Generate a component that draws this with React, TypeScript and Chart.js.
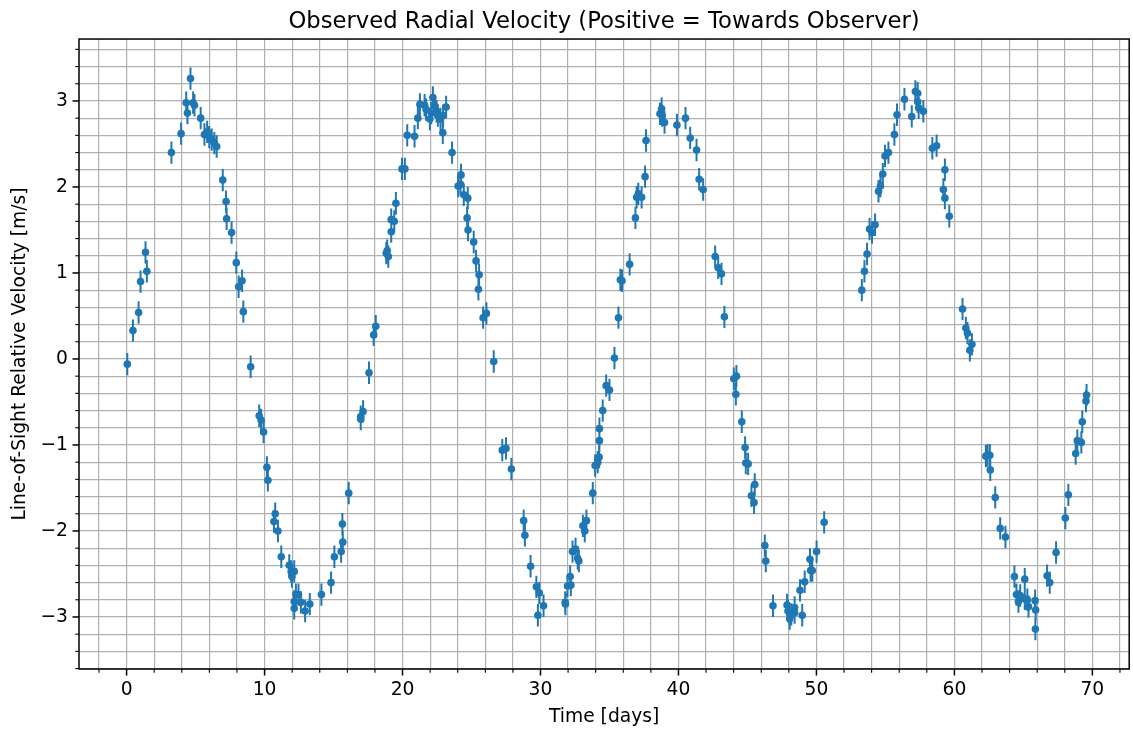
import React, { useEffect, useRef } from "react";
import { Chart, registerables } from "chart.js";

Chart.register(...registerables);

// ---- Data ----
const days = [
  0.05, 0.46, 0.87, 1.01, 1.37, 1.47, 3.25, 3.95, 4.32, 4.41, 4.63, 4.82, 4.92, 5.37, 5.64, 5.84, 5.99, 6.17, 6.36, 6.53,
  6.97, 7.21, 7.25, 7.61, 7.95, 8.12, 8.37, 8.46, 8.99,
  9.61, 9.75, 9.93, 10.17, 10.24, 10.77, 10.68, 10.97, 11.21,
  11.79, 11.93, 12.15, 11.98, 12.27, 12.46, 12.15, 12.15, 12.63, 12.94, 13.28, 14.12, 14.82, 15.06, 15.55, 15.67, 15.64,
  16.10, 16.97, 17.14, 16.97, 17.57,
  17.91, 18.06, 18.82, 18.97, 18.89, 19.18, 19.18, 19.40, 19.52, 19.96, 20.17, 20.34, 20.87, 21.11, 21.26, 21.60, 21.71,
  22.20, 22.34, 21.98, 22.08, 22.47, 22.56, 22.75, 22.94, 23.16, 22.92, 23.59,
  24.24, 24.03, 24.20, 24.44, 24.73, 24.68, 24.75, 25.16, 25.33, 25.55, 25.50, 25.84, 26.08, 26.61,
  27.23, 27.50, 27.89, 28.78, 28.87, 29.28, 29.70, 29.91, 30.22, 29.81, 31.79, 31.81, 31.96, 32.20, 32.15, 32.32, 32.54,
  32.70, 32.78, 33.07, 33.33, 33.21, 33.79, 33.96,
  34.15, 34.25, 34.27, 34.27, 34.51, 34.76, 35.00, 35.36, 35.65, 35.79, 35.91, 36.46, 36.88, 36.97, 37.09, 37.33, 37.58,
  37.65, 38.66, 38.78, 38.81, 38.99, 39.89, 40.51, 40.85, 41.31, 41.50, 41.79, 42.66, 42.88, 43.12, 43.33, 44.01, 44.20,
  44.16, 44.59, 44.83, 44.88, 45.05, 45.53, 45.29, 45.48, 46.26, 46.33, 46.85,
  47.87, 47.94, 48.06, 48.18, 48.42, 48.42, 48.97, 48.81, 49.15, 49.53, 49.58, 49.70, 50.01, 50.56,
  53.29, 53.48, 53.67, 53.85, 54.03, 54.25, 54.50, 54.64, 54.81, 54.97, 55.22, 55.65, 55.84, 56.38, 56.91, 57.17, 57.34,
  57.34, 57.41, 57.75, 58.40, 58.71, 59.31, 59.20, 59.31, 59.63,
  60.59, 60.83, 60.95, 61.27, 61.12, 62.28, 62.40, 62.57, 62.60, 62.96, 63.32, 63.70, 64.35, 64.50, 64.64, 64.77, 65.10,
  65.10, 65.29, 65.37, 65.85, 65.89, 65.87, 66.72, 66.91, 67.37, 68.04, 68.26, 68.79, 68.91, 69.20, 69.27, 69.54, 69.58,
];

const velocity = [
  -0.06, 0.33, 0.54, 0.90, 1.24, 1.02, 2.40, 2.62, 2.98, 2.86, 3.26, 2.98, 2.95, 2.80, 2.61, 2.64, 2.58, 2.55, 2.51, 2.47,
  2.08, 1.83, 1.63, 1.47, 1.12, 0.84, 0.91, 0.55, -0.09,
  -0.66, -0.71, -0.85, -1.26, -1.41, -1.80, -1.89, -2.00, -2.30,
  -2.40, -2.47, -2.47, -2.53, -2.74, -2.74, -2.82, -2.90, -2.83, -2.93, -2.85, -2.74, -2.60, -2.30, -2.24, -2.13, -1.92,
  -1.56, -0.67, -0.61, -0.70, -0.16,
  0.28, 0.38, 1.23, 1.19, 1.26, 1.48, 1.62, 1.60, 1.81, 2.21, 2.21, 2.60, 2.59, 2.80, 2.96, 2.95, 2.90,
  3.04, 2.94, 2.79, 2.86, 2.88, 2.83, 2.79, 2.83, 2.93, 2.63, 2.40,
  2.14, 2.01, 2.03, 1.91, 1.87, 1.64, 1.50, 1.36, 1.14, 0.98, 0.81, 0.48, 0.53, -0.03,
  -1.06, -1.04, -1.28, -1.88, -2.05, -2.41, -2.65, -2.72, -2.87, -2.98, -2.83, -2.85, -2.64, -2.63, -2.53, -2.24, -2.21,
  -2.32, -2.35, -1.94, -1.88, -2.00, -1.56, -1.24,
  -1.20, -1.14, -0.95, -0.81, -0.60, -0.31, -0.36, 0.01, 0.48, 0.92, 0.91, 1.10, 1.64, 1.88, 1.92, 1.88, 2.12,
  2.54, 2.85, 2.91, 2.83, 2.75, 2.72, 2.80, 2.57, 2.43, 2.09, 1.97, 1.19, 1.06, 0.99, 0.49, -0.23, -0.20,
  -0.41, -0.73, -1.03, -1.21, -1.22, -1.46, -1.59, -1.67, -2.17, -2.35, -2.87,
  -2.86, -2.93, -3.02, -2.97, -2.95, -2.89, -2.98, -2.69, -2.59, -2.33, -2.46, -2.46, -2.24, -1.90,
  0.80, 1.02, 1.22, 1.51, 1.47, 1.56, 1.95, 2.01, 2.15, 2.36, 2.40, 2.61, 2.84, 3.02, 2.82, 3.11, 3.09,
  2.99, 2.92, 2.88, 2.45, 2.48, 2.20, 1.97, 1.87, 1.66,
  0.58, 0.36, 0.30, 0.17, 0.10, -1.13, -1.12, -1.12, -1.29, -1.61, -1.97, -2.07, -2.53, -2.74, -2.82, -2.75, -2.56,
  -2.79, -2.80, -2.88, -2.81, -2.92, -3.14, -2.52, -2.60, -2.25, -1.85, -1.58, -1.10, -0.95, -0.97, -0.73, -0.49, -0.42,
];

const velocityError = 0.13;

const xMajorTicks = [0, 10, 20, 30, 40, 50, 60, 70];
const yMajorTicks = [-3, -2, -1, 0, 1, 2, 3];
const xMinorStep = 2;
const yMinorStep = 0.2;
const xLimits = [-3.45, 72.67];
const yLimits = [-3.605, 3.72];

const titleText = "Observed Radial Velocity (Positive = Towards Observer)";
const xTitle = "Time [days]";
const yTitle = "Line-of-Sight Relative Velocity [m/s]";

// ---- Styling ----
const FONT = "'DejaVu Sans', 'Noto Sans', sans-serif";
const BLUE = "#1f77b4";
const GRID = "#b0b0b0";
const TICK_FONT = 18.7;

function stepTicks(min: number, max: number, step: number): number[] {
  const out: number[] = [];
  const k0 = Math.ceil(min / step - 1e-9);
  const k1 = Math.floor(max / step + 1e-9);
  for (let k = k0; k <= k1; k++) out.push(Math.round(k * step * 1000) / 1000);
  return out;
}

const isMajorX = (v: number) => xMajorTicks.some((m) => Math.abs(m - v) < 1e-6);
const isMajorY = (v: number) => yMajorTicks.some((m) => Math.abs(m - v) < 1e-6);
const fmt = (v: number) => (v < 0 ? "\u2212" + Math.abs(v) : String(v));

const errorBarPlugin = {
  id: "errorBars",
  beforeDatasetsDraw(chart: any) {
    const { ctx, chartArea: a, scales } = chart;
    const x = scales.x;
    const y = scales.y;
    ctx.save();
    ctx.beginPath();
    ctx.rect(a.left, a.top, a.right - a.left, a.bottom - a.top);
    ctx.clip();
    ctx.strokeStyle = BLUE;
    ctx.lineWidth = 2;
    ctx.beginPath();
    days.forEach((d, i) => {
      const px = x.getPixelForValue(d);
      ctx.moveTo(px, y.getPixelForValue(velocity[i] - velocityError));
      ctx.lineTo(px, y.getPixelForValue(velocity[i] + velocityError));
    });
    ctx.stroke();
    ctx.restore();
  },
};

const axesPlugin = {
  id: "mplAxes",
  afterDraw(chart: any) {
    const { ctx, chartArea: a, scales } = chart;
    const x = scales.x;
    const y = scales.y;
    ctx.save();
    ctx.strokeStyle = "#000";
    x.ticks.forEach((t: any) => {
      const major = isMajorX(t.value);
      const px = x.getPixelForValue(t.value);
      ctx.lineWidth = major ? 1.5 : 1.1;
      ctx.beginPath();
      ctx.moveTo(px, a.bottom);
      ctx.lineTo(px, a.bottom + (major ? 6.5 : 3.7));
      ctx.stroke();
    });
    y.ticks.forEach((t: any) => {
      const major = isMajorY(t.value);
      const py = y.getPixelForValue(t.value);
      ctx.lineWidth = major ? 1.5 : 1.1;
      ctx.beginPath();
      ctx.moveTo(a.left, py);
      ctx.lineTo(a.left - (major ? 6.5 : 3.7), py);
      ctx.stroke();
    });
    ctx.lineWidth = 1.5;
    ctx.strokeRect(a.left, a.top, a.right - a.left, a.bottom - a.top);
    ctx.restore();
  },
};

export default function App() {
  const ref = useRef<HTMLCanvasElement>(null);

  useEffect(() => {
    document.body.style.margin = "0";
    const canvas = ref.current;
    if (!canvas) return;
    Chart.defaults.font.family = FONT;
    Chart.defaults.color = "#000";

    const chart = new Chart(canvas, {
      type: "scatter",
      data: {
        datasets: [
          {
            data: days.map((d, i) => ({ x: d, y: velocity[i] })),
            pointRadius: 3.8,
            pointHoverRadius: 3.8,
            pointBackgroundColor: BLUE,
            pointBorderWidth: 0,
            borderColor: BLUE,
            showLine: false,
          },
        ],
      },
      options: {
        animation: false,
        responsive: false,
        devicePixelRatio: 1,
        events: [],
        layout: { padding: { left: 0, right: 1, top: 0, bottom: 0 } },
        plugins: {
          legend: { display: false },
          tooltip: { enabled: false },
          title: {
            display: true,
            fullSize: false,
            text: titleText,
            color: "#000",
            font: { family: FONT, size: 22.7, weight: "normal" },
            padding: { top: 8, bottom: 3.8 },
          },
        },
        scales: {
          x: {
            type: "linear",
            min: xLimits[0],
            max: xLimits[1],
            afterBuildTicks: (s: any) => {
              s.ticks = stepTicks(xLimits[0], xLimits[1], xMinorStep).map((v) => ({ value: v }));
            },
            afterFit: (s: any) => {
              s.height = 62;
            },
            grid: { color: GRID, lineWidth: 1.2, drawTicks: false },
            border: { display: false },
            ticks: {
              autoSkip: false,
              maxRotation: 0,
              padding: 10,
              color: "#000",
              font: { family: FONT, size: TICK_FONT },
              callback: (v: any) => (isMajorX(Number(v)) ? fmt(Number(v)) : ""),
            },
            title: {
              display: true,
              text: xTitle,
              color: "#000",
              font: { family: FONT, size: TICK_FONT },
              padding: { top: 0, bottom: 3 },
            },
          },
          y: {
            type: "linear",
            min: yLimits[0],
            max: yLimits[1],
            afterBuildTicks: (s: any) => {
              s.ticks = stepTicks(yLimits[0], yLimits[1], yMinorStep).map((v) => ({ value: v }));
            },
            afterFit: (s: any) => {
              s.width = 79;
            },
            grid: { color: GRID, lineWidth: 1.2, drawTicks: false },
            border: { display: false },
            ticks: {
              autoSkip: false,
              padding: 11,
              color: "#000",
              font: { family: FONT, size: TICK_FONT },
              callback: (v: any) => (isMajorY(Number(v)) ? fmt(Math.round(Number(v))) : ""),
            },
            title: {
              display: true,
              text: yTitle,
              color: "#000",
              font: { family: FONT, size: TICK_FONT },
              padding: { top: 9, bottom: 0 },
            },
          },
        },
      } as any,
      plugins: [errorBarPlugin, axesPlugin],
    });

    return () => chart.destroy();
  }, []);

  return (
    <canvas
      ref={ref}
      width={1133}
      height={731}
      style={{ display: "block", width: "1133px", height: "731px" }}
    />
  );
}
